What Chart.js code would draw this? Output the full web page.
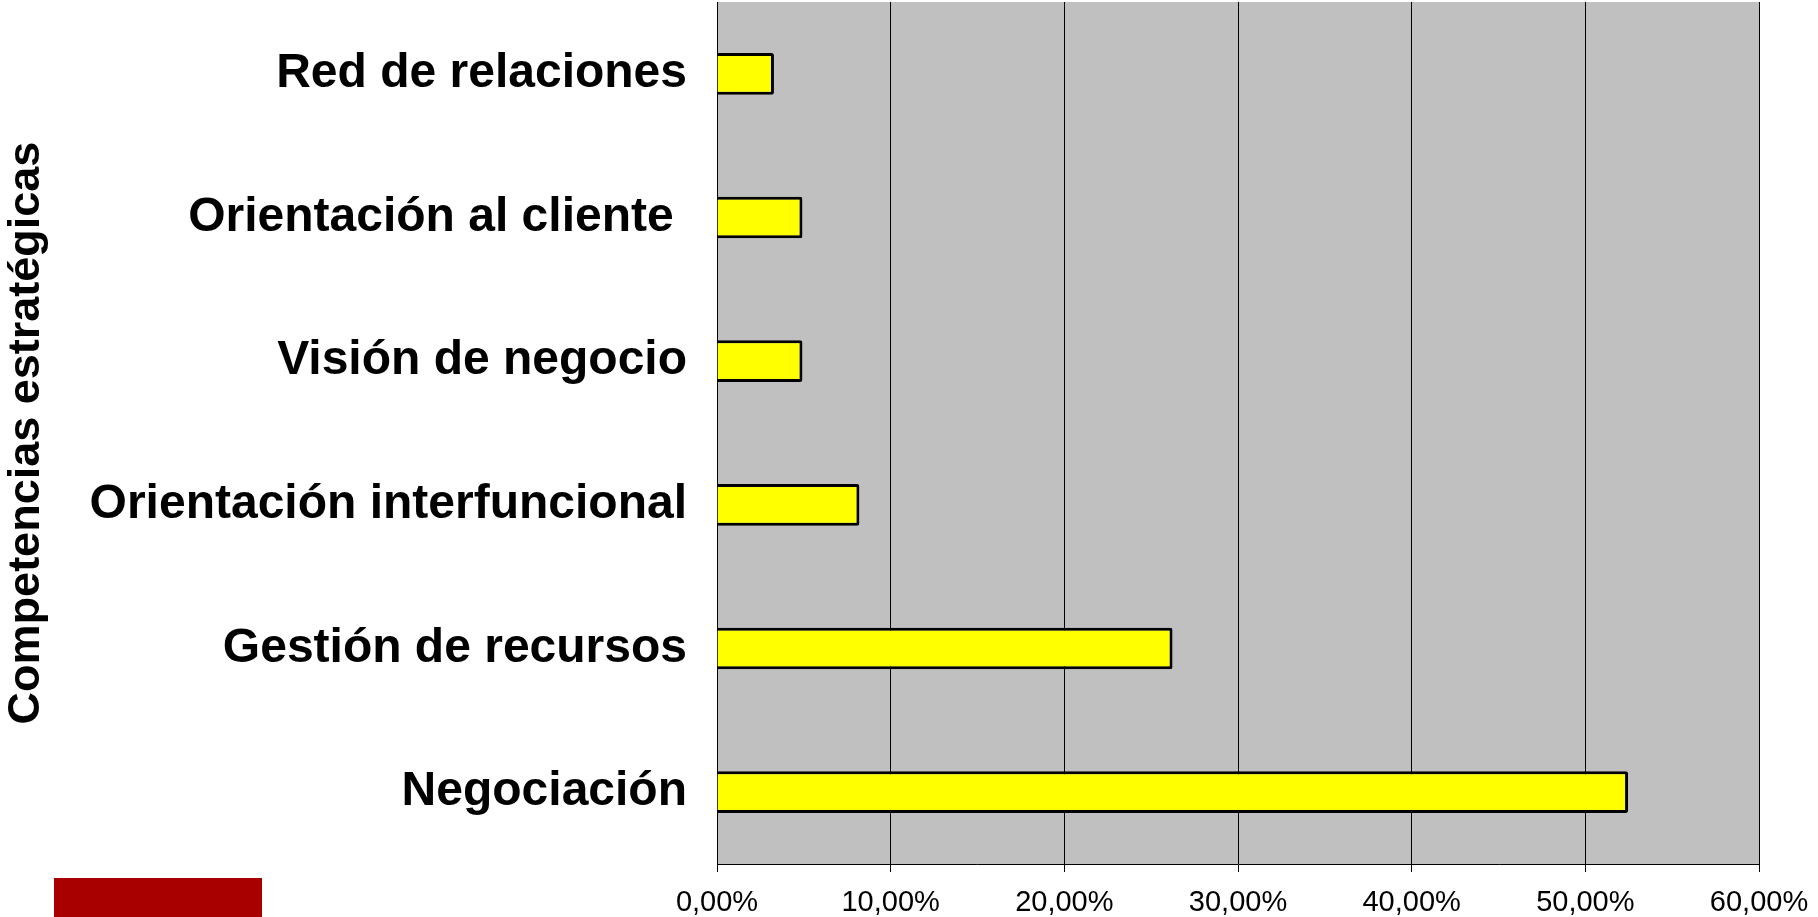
<!DOCTYPE html>
<html lang="es">
<head>
<meta charset="utf-8">
<title>Competencias estratégicas</title>
<script src="https://cdn.jsdelivr.net/npm/chart.js@4"></script>
<style>
  html, body { margin: 0; padding: 0; background: #fff; }
  #wrap { position: relative; width: 1818px; height: 917px; }
  #redBlock { position: absolute; left: 54px; top: 878px; width: 208px; height: 39px; background: #a80000; }
</style>
</head>
<body>
<div id="wrap">
  <canvas id="chart"></canvas>
  <div id="redBlock"></div>
</div>
<script>
// datos: porcentaje de menciones por competencia
const categories = [
  'Red de relaciones',
  'Orientación al cliente ',
  'Visión de negocio',
  'Orientación interfuncional',
  'Gestión de recursos',
  'Negociación'
];
const values = [3.28, 4.92, 4.92, 8.20, 26.23, 52.46];
const axisTitle = 'Competencias estratégicas';
const xTickMin = 0;
const xTickMax = 60;
const xTickStep = 10;

const FONT = "'Liberation Sans', Arial, sans-serif";
const PLOT_BG = '#c0c0c0';
const BAR_FILL = '#ffff00';

// fondo gris solo dentro del área del gráfico
const plotBackground = {
  id: 'plotBackground',
  beforeDraw(chart) {
    const { ctx, chartArea: a } = chart;
    ctx.save();
    ctx.fillStyle = PLOT_BG;
    ctx.fillRect(a.left, a.top, a.right - a.left, a.bottom - a.top);
    ctx.restore();
  }
};

new Chart(document.getElementById('chart'), {
  type: 'bar',
  data: {
    labels: categories,
    datasets: [{
      data: values,
      backgroundColor: BAR_FILL,
      borderColor: '#000',
      borderWidth: 3,
      borderRadius: 2,
      barPercentage: 0.58,
      categoryPercentage: 0.5
    }]
  },
  options: {
    indexAxis: 'y',
    responsive: true,
    maintainAspectRatio: false,
    animation: false,
    layout: { padding: { top: 2, right: 59, left: 0, bottom: 0 } },
    plugins: { legend: { display: false }, tooltip: { enabled: false } },
    scales: {
      x: {
        min: xTickMin,
        max: xTickMax,
        afterFit(scale) {
          scale.height = 53;
          // el margen derecho lo fija layout.padding
          scale.paddingLeft = 0;
          scale.paddingRight = 0;
        },
        ticks: {
          stepSize: xTickStep,
          color: '#000',
          padding: 14,
          maxRotation: 0,
          font: { family: FONT, size: 29 },
          callback: v => v.toFixed(2).replace('.', ',') + '%'
        },
        grid: { color: '#000', lineWidth: 1, drawTicks: true, tickLength: 8, tickColor: '#000' },
        border: { display: true, color: '#000', width: 1 }
      },
      y: {
        afterFit(scale) {
          scale.width = 717;
          // sin relleno extra arriba/abajo: las etiquetas están centradas en su banda
          scale.paddingTop = 0;
          scale.paddingBottom = 0;
        },
        ticks: {
          color: '#000',
          padding: 30,
          font: { family: FONT, size: 48, weight: 'bold' }
        },
        grid: { display: false, drawTicks: false },
        border: { display: true, color: '#000', width: 1 },
        title: {
          display: true,
          text: axisTitle,
          color: '#000',
          padding: { top: 0, bottom: 0 },
          font: { family: FONT, size: 45, weight: 'bold', lineHeight: 1.2 }
        }
      }
    }
  },
  plugins: [plotBackground]
});
</script>
</body>
</html>
